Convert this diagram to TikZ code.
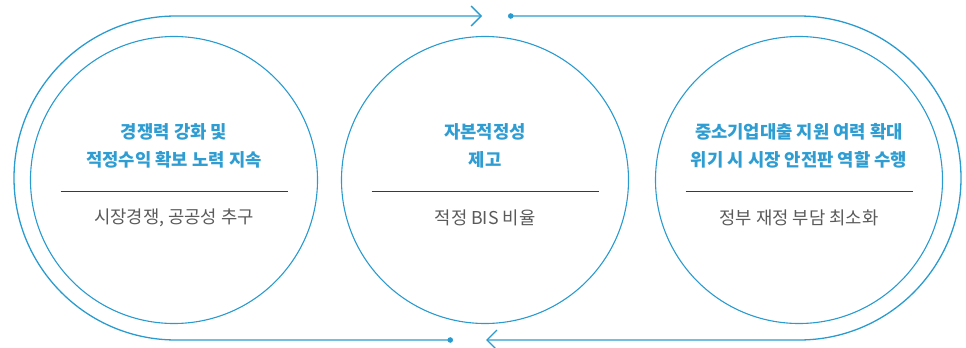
\documentclass[tikz,border=0pt]{standalone}
\usepackage{fontspec}
\newfontfamily\krfont{Noto Sans CJK KR}
\newcommand{\displayfont}{\krfont}
\definecolor{CycleBlue}{HTML}{2A9BCF}
\definecolor{CycleTitle}{HTML}{2F9DD2}
\definecolor{CycleGrey}{HTML}{5A5A5A}
\definecolor{CycleRule}{HTML}{3A3A3A}
\usetikzlibrary{arrows.meta,calc}

\begin{document}
\begin{tikzpicture}[
        x=1bp, y=1bp,
        stage/.style={
            circle,
            draw=CycleBlue,
            line width=1.1bp,
            minimum size=287bp,
            inner sep=0pt
        },
        goal/.style={
            align=center,
            text=CycleTitle,
            font=\displayfont\fontsize{17.8}{28.5}\selectfont\bfseries
        },
        means/.style={
            text=CycleGrey,
            font=\displayfont\fontsize{17.8}{20}\selectfont
        },
        rule/.style={
            draw=CycleRule,
            line width=0.8bp
        },
        loop/.style={
            draw=CycleBlue,
            line width=1.3bp,
            {Circle[length=5.5bp]}-{Straight Barb[length=10bp,width=20bp,line width=1.3bp]}
        }
    ]
        \useasboundingbox (0,0) rectangle (966,347);

        \node[stage] (competition) at (174,167) {};
        \node[stage] (capital) at (485,167) {};
        \node[stage] (safety) at (799,167) {};

        \node[goal] (competitiongoal) at (174,201)
            {경쟁력 강화 및\\적정수익 확보 노력 지속};
        \node[goal] (capitalgoal) at (485,201)
            {자본적정성\\제고};
        \node[goal] (safetygoal) at (799,201)
            {중소기업대출 지원 여력 확대\\위기 시 시장 안전판 역할 수행};

        \node[means] (competitionmeans) at (174,129) {시장경쟁, 공공성 추구};
        \node[means] (capitalmeans) at (485,129) {적정 BIS 비율};
        \node[means] (safetymeans) at (799,129) {정부 재정 부담 최소화};

        \draw[rule] ($(competition.center)+(-113.5,-11.7)$) -- ++(227,0);
        \draw[rule] ($(capital.center)+(-113.5,-11.7)$) -- ++(227,0);
        \draw[rule] ($(safety.center)+(-113.5,-11.7)$) -- ++(227,0);

        % outer cycle
        \coordinate (topstart) at (508,331);
        \coordinate (topend) at (482,331);
        \coordinate (bottomstart) at (453,7);
        \coordinate (bottomend) at (486,7);
        \draw[loop] (topstart) -- (799,331)
            arc[start angle=90, end angle=-90, radius=162] -- (bottomend);
        \draw[loop] (bottomstart) -- (176,7)
            arc[start angle=270, end angle=90, radius=162] -- (topend);
    \end{tikzpicture}
\end{document}
